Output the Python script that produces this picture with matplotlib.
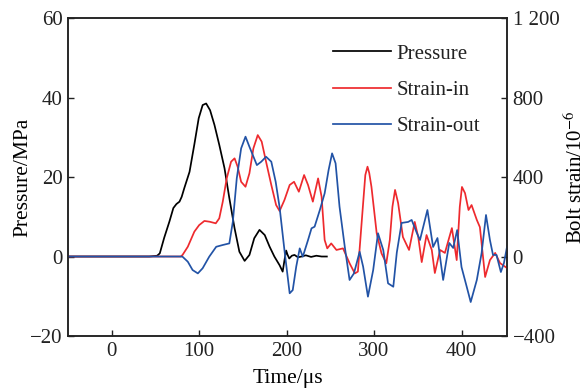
import matplotlib
matplotlib.use("Agg")
import matplotlib.pyplot as plt

# pressure (MPa) against time (us)
t_pres = [-50, 0, 43, 52, 55, 60, 66, 70.5, 74, 77.5, 80, 83, 89, 94.5, 99.5, 104,
          108, 112.5, 117.5, 123, 129, 134.5, 140.5, 146, 152, 157.5, 163, 169, 175,
          180.5, 186, 192, 195.5, 197.5, 199.5, 201, 203, 206, 209, 213, 217, 222,
          228, 234, 240, 246]
pres = [0, 0, 0, 0.2, 0.8, 4.7, 8.8, 12.2, 13.2, 13.8, 15.0, 17.2, 21.3, 28.2, 34.8,
        38.1, 38.5, 36.8, 33.1, 28.1, 22.2, 14.7, 7.1, 1.2, -1.1, 0.4, 4.6, 6.7, 5.4,
        2.5, 0, -2.2, -3.8, -1.0, 1.5, 0.5, -0.5, 0.2, 0.4, -0.2, 0, 0.3, -0.1, 0.2,
        0, 0]

# strain on the inner gauge (10^-6)
t_in = [-50, 0, 79, 81, 87, 94.5, 100, 106, 112, 119, 123, 127, 131.5, 136.5, 140.5,
        144, 148, 153, 157.5, 162, 167, 171.5, 176.5, 182.5, 188, 192, 197.5, 203.5,
        208.5, 214, 220, 224.5, 230, 236, 240, 243.5, 246.5, 251, 257, 264.5, 272,
        278, 281.5, 287.5, 290, 292.5, 294.5, 297, 303, 308.5, 314, 318, 321, 324,
        327.5, 333, 340, 346.5, 350.5, 354.5, 360, 366, 369.5, 375.5, 381, 389, 394.5,
        398, 400.5, 404, 408, 411.5, 417.5, 421, 427, 432.5, 438.5, 444, 452]
strain_in = [0, 0, 0, 8, 49, 125, 158, 179, 175, 167, 192, 276, 393, 477, 494,
             452, 376, 351, 419, 544, 611, 578, 477, 360, 259, 229, 284, 360,
             376, 326, 410, 360, 276, 393, 301, 83, 41, 66, 33, 41, -34,
             -85, -76, 268, 410, 452, 420, 351, 117, 16, -34, 83, 250, 335,
             269, 98, 33, 174, 98, -28, 108, 33, -83, 33, 18, 143, -18,
             250, 350, 319, 234, 259, 184, 148, -103, -18, 18, -33, -58]

# strain on the outer gauge (10^-6)
t_out = [-50, 0, 79, 81, 87, 92.5, 98.5, 104, 111.5, 119.5, 127, 134.5, 138.5, 143,
         148, 153, 157.5, 166, 171, 176.5, 182.5, 187.5, 192, 197.5, 203.5, 207, 211,
         215, 218.5, 224.5, 228.5, 232, 238, 243.5, 248, 252, 256, 260.5, 266.5, 272,
         277, 283.5, 287.5, 293, 299, 304.5, 310.5, 316, 322, 326, 331.5, 339, 343,
         348.5, 352.5, 361, 367.5, 372.5, 379, 386, 390.5, 395, 400, 406, 410.5, 417.5,
         423, 428, 432.5, 436, 440, 445, 448.5, 452]
strain_out = [0, 0, 0, -1, -26, -68, -85, -59, -1, 49, 58, 66, 175, 393,
              544, 603, 552, 460, 477, 502, 477, 376, 247, 33, -185, -169, -51,
              41, -1, 83, 142, 150, 234, 318, 435, 519, 469, 251, 49, -118,
              -85, 24, -51, -202, -68, 117, 33, -135, -152, 20, 169, 174, 184,
              123, 83, 234, 48, 93, -118, 68, 43, 133, -53, -153, -229, -118,
              18, 209, 83, 8, 8, -78, -33, 48]

x_ticks = [0, 100, 200, 300, 400]
p_ticks = [-20, 0, 20, 40, 60]
s_ticks = [-400, 0, 400, 800, 1200]
s_tick_labels = ["\u2212400", "0", "400", "800", "1 200"]

plt.rcParams["font.family"] = ["Liberation Serif", "DejaVu Serif"]
plt.rcParams["mathtext.fontset"] = "stix"
plt.rcParams["text.color"] = "#222222"

fig = plt.figure(figsize=(5.87, 3.89), dpi=100)
ax = fig.add_axes([0.1158, 0.1362, 0.7479, 0.8175])
ax2 = ax.twinx()

l1, = ax.plot(t_pres, pres, color="black", lw=1.25, label="Pressure")
l2, = ax2.plot(t_in, strain_in, color="#ee2a2e", lw=1.25, label="Strain-in")
l3, = ax2.plot(t_out, strain_out, color="#2253a6", lw=1.25, label="Strain-out")

ax.set_xlim(-50, 452)
ax.set_ylim(-20, 60)
ax2.set_ylim(-400, 1200)
ax.set_xticks(x_ticks)
ax.set_yticks(p_ticks)
ax2.set_yticks(s_ticks)
ax2.set_yticklabels(s_tick_labels)

for a in (ax, ax2):
    a.tick_params(direction="in", length=4.5, width=1.0, colors="#222222",
                  labelsize=15, pad=4)
    for sp in a.spines.values():
        sp.set_linewidth(1.1)
        sp.set_color("#222222")

ax.set_xlabel("Time/\u03bcs", fontsize=15.5)
ax.set_ylabel("Pressure/MPa", fontsize=15.5)
ax2.set_ylabel("Bolt strain/10$^{-6}$", fontsize=15)
ax.xaxis.set_label_coords(0.5, -0.105)
ax.yaxis.set_label_coords(-0.08, 0.5)
ax2.yaxis.set_label_coords(1.132, 0.5)

ax.legend(handles=[l1, l2, l3], loc="upper left", bbox_to_anchor=(0.603, 0.918),
          frameon=False, borderpad=0, borderaxespad=0, handlelength=2.8,
          handletextpad=0.25, labelspacing=0.8, fontsize=15)

fig.savefig("out.png", dpi=100)
